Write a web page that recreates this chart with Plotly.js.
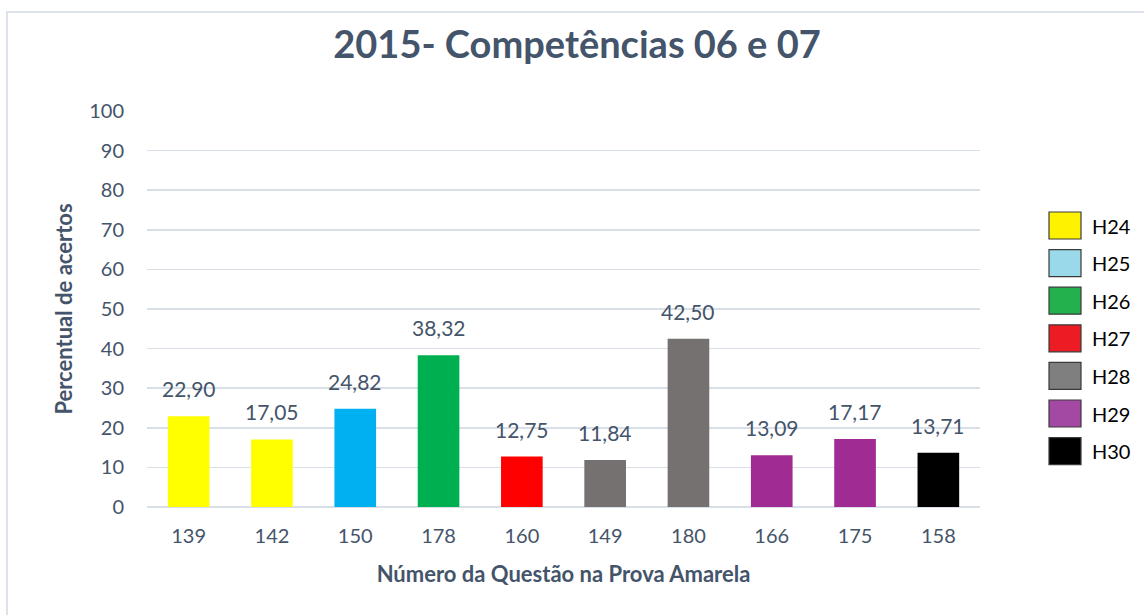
<!DOCTYPE html>
<html>
<head>
<meta charset="utf-8">
<script src="https://cdn.plot.ly/plotly-3.0.1.min.js"></script>
<style>html,body{margin:0;padding:0;background:#fff;}#chart{width:1144px;height:615px;}</style>
</head>
<body>
<div id="chart"></div>
<script>
// ---- data ----
const categories = ['139', '142', '150', '178', '160', '149', '180', '166', '175', '158'];
const values = [22.90, 17.05, 24.82, 38.32, 12.75, 11.84, 42.50, 13.09, 17.17, 13.71];
const legendNames = ['H24', 'H25', 'H26', 'H27', 'H28', 'H29', 'H30'];

// ---- styles ----
const barColors = ['#FFFF00', '#FFFF00', '#00B0F0', '#00B050', '#FF0000', '#767171', '#767171', '#A02B93', '#A02B93', '#000000'];
const legendColors = ['#FFF200', '#99D9EA', '#22B14C', '#ED1C24', '#7F7F7F', '#A349A4', '#000000'];
const txt = '#44546A';
const FONT = 'Lato, "Open Sans", sans-serif';

const W = 1144, H = 615;
const M = {l: 147, r: 164, t: 111, b: 108};
const PW = W - M.l - M.r, PH = H - M.t - M.b;
const px2x = p => (p - M.l) / PW;
const py2y = p => (H - M.b - p) / PH;

const fmt = v => v.toFixed(2).replace('.', ',');

const trace = {
  type: 'bar',
  x: categories,
  y: values,
  marker: {color: barColors, line: {width: 0}},
  hoverinfo: 'x+y',
  showlegend: false
};

// data labels: x given as category index (numeric-looking category names)
const annotations = categories.map((c, i) => ({
  x: i, y: values[i], xref: 'x', yref: 'y',
  text: fmt(values[i]), showarrow: false,
  xanchor: 'center', yanchor: 'bottom', yshift: 13,
  font: {family: FONT, size: 21, color: txt}
}));

const shapes = [{
  type: 'rect', xref: 'paper', yref: 'paper',
  x0: px2x(7), x1: px2x(1160), y0: py2y(630), y1: py2y(12),
  line: {color: '#DCE2E9', width: 2}, fillcolor: 'rgba(0,0,0,0)', layer: 'below'
}];

legendNames.forEach((n, i) => {
  const cy = 225.5 + i * 37.6;
  shapes.push({
    type: 'rect', xref: 'paper', yref: 'paper',
    x0: px2x(1049), x1: px2x(1081), y0: py2y(cy + 13.5), y1: py2y(cy - 13.5),
    fillcolor: legendColors[i], line: {color: '#3A3A3A', width: 1.2}
  });
  annotations.push({
    xref: 'paper', yref: 'paper', x: px2x(1090), y: py2y(cy),
    xanchor: 'left', yanchor: 'middle', showarrow: false,
    text: n, font: {family: FONT, size: 20, color: '#000000'}
  });
});

const layout = {
  width: W, height: H,
  margin: M,
  paper_bgcolor: '#FFFFFF', plot_bgcolor: '#FFFFFF',
  font: {family: FONT, color: txt},
  title: {
    text: '2015- Competências 06 e 07',
    font: {family: FONT, size: 38, color: txt, weight: 700},
    x: 577 / W, xanchor: 'center', xref: 'container',
    y: 1 - 45 / H, yanchor: 'middle', yref: 'container'
  },
  bargap: 0.5,
  xaxis: {
    type: 'category',
    showgrid: false, zeroline: false, showline: false, ticks: '',
    tickfont: {family: FONT, size: 20, color: txt},
    tickangle: 0,
    ticklabelstandoff: 15,
    title: {text: 'Número da Questão na Prova Amarela', font: {family: FONT, size: 22, color: txt, weight: 700}, standoff: 20},
    automargin: false
  },
  yaxis: {
    range: [0, 100], dtick: 10, tick0: 0,
    showgrid: true, gridcolor: '#D9DFE6', gridwidth: 1.5,
    zeroline: true, zerolinecolor: '#D9DFE6', zerolinewidth: 2,
    showline: false, ticks: '',
    tickfont: {family: FONT, size: 20, color: txt},
    ticklabelstandoff: 22,
    title: {text: 'Percentual de acertos', font: {family: FONT, size: 22, color: txt, weight: 700}, standoff: 10},
    automargin: false, fixedrange: true
  },
  annotations: annotations,
  shapes: shapes,
  showlegend: false
};

Plotly.newPlot('chart', [trace], layout, {displayModeBar: false, staticPlot: true});
</script>
</body>
</html>
